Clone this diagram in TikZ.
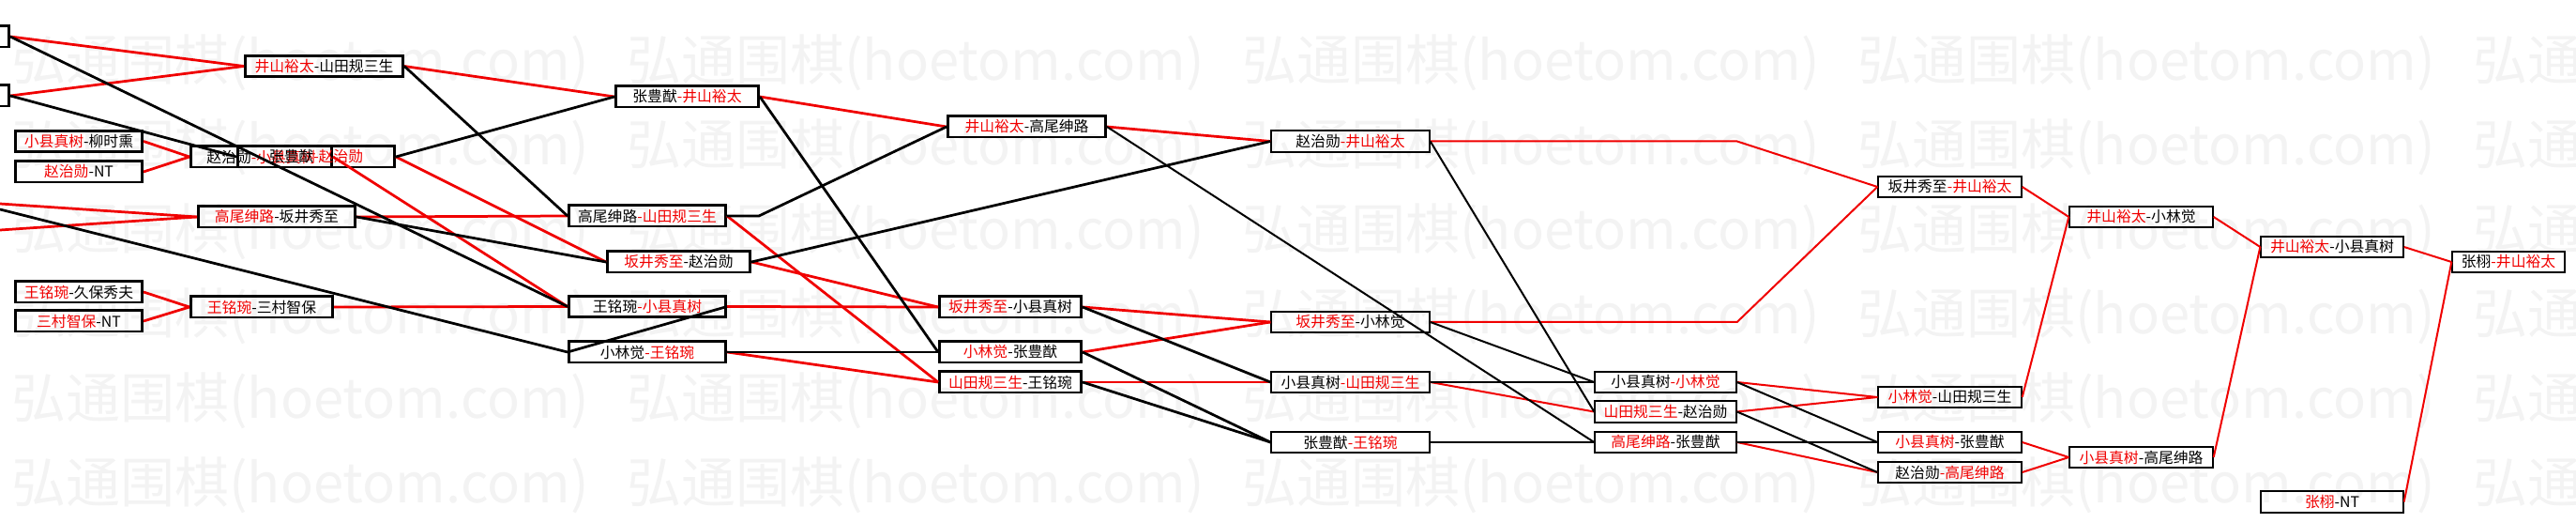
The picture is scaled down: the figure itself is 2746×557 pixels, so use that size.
\documentclass[tikz,border=0pt]{standalone}
\usepackage{fontspec}
\setmainfont{Noto Sans CJK SC}
\usepackage{xcolor}
\usepackage{tikz}
\definecolor{wred}{HTML}{F00000}
\definecolor{wmark}{HTML}{F3F3F3}
\newcommand\rd[1]{\textcolor{wred}{#1}}

\begin{document}
\begin{tikzpicture}[x=0.2mm,y=-0.2mm,
mb/.style={draw,line width=0.55mm,minimum width=#1*0.2mm-0.55mm,minimum height=4.45mm,inner sep=0pt,font=\fontsize{9pt}{9pt}\selectfont},
tb/.style={line width=0.42mm},
wl/.style={draw=wred,line width=0.55mm},
ll/.style={draw=black,line width=0.55mm},
tl/.style={line width=0.4mm},
wm/.style={anchor=west,text=wmark,inner sep=0pt,font=\fontsize{33pt}{33pt}\selectfont}]
\useasboundingbox (0,0) rectangle (2746,557);
\clip (0,0) rectangle (2746,557);
\foreach \r in {0,...,5}{\foreach \c in {0,...,4}{\node[wm] (w\r\c) at (12+656*\c,67+90*\r) {弘通围棋(hoetom.com)};}}
% boxes cut at the left edge
\node[mb=170] (l1) at (-74,39) {};
\node[mb=170] (l2) at (-74,102) {};
\coordinate (o1) at (0,217);
\coordinate (o2) at (0,245);
\coordinate (o3) at (0,223);
\node[mb=138] (a1) at (84,150.5) {\rd{小县真树}-柳时熏};
\node[mb=138] (a2) at (84,183) {\rd{赵治勋}-NT};
\node[mb=138] (a3) at (84,311) {\rd{王铭琬}-久保秀夫};
\node[mb=138] (a4) at (84,342) {\rd{三村智保}-NT};
\node[mb=171] (b1) at (345.5,70.5) {\rd{井山裕太}-山田规三生};
\node[mb=153] (b2) at (278.5,167) {赵治勋\rd{-小县真树}};
\node[mb=170] (b3) at (337,167) {张豊猷\rd{-赵治勋}};
\node[mb=170] (b4) at (295,231) {\rd{高尾绅路}-坂井秀至};
\node[mb=154] (b5) at (279,327) {\rd{王铭琬}-三村智保};
\node[mb=155] (c1) at (732.5,103) {张豊猷\rd{-井山裕太}};
\node[mb=170] (c2) at (690,230) {高尾绅路\rd{-山田规三生}};
\node[mb=155] (c3) at (723.5,279) {\rd{坂井秀至}-赵治勋};
\node[mb=170] (c4) at (690,326.5) {王铭琬\rd{-小县真树}};
\node[mb=170] (c5) at (690,375) {小林觉\rd{-王铭琬}};
\node[mb=171] (d1) at (1094.5,135) {\rd{井山裕太}-高尾绅路};
\node[mb=154] (d2) at (1077,327) {\rd{坂井秀至}-小县真树};
\node[mb=154] (d3) at (1077,375) {\rd{小林觉}-张豊猷};
\node[mb=154] (d4) at (1077,407) {\rd{山田规三生}-王铭琬};
\node[mb=171,tb] (e1) at (1439.5,150.5) {赵治勋\rd{-井山裕太}};
\node[mb=171,tb] (e2) at (1439.5,343) {\rd{坂井秀至}-小林觉};
\node[mb=171,tb] (e3) at (1439.5,407) {小县真树\rd{-山田规三生}};
\node[mb=171,tb] (e4) at (1439.5,471) {张豊猷\rd{-王铭琬}};
\node[mb=153,tb] (f1) at (1775.5,407) {小县真树\rd{-小林觉}};
\node[mb=153,tb] (f2) at (1775.5,438.5) {\rd{山田规三生}-赵治勋};
\node[mb=153,tb] (f3) at (1775.5,471) {\rd{高尾绅路}-张豊猷};
\node[mb=155,tb] (g1) at (2078.5,199) {坂井秀至\rd{-井山裕太}};
\node[mb=155,tb] (g2) at (2078.5,423) {\rd{小林觉}-山田规三生};
\node[mb=155,tb] (g3) at (2078.5,471) {\rd{小县真树}-张豊猷};
\node[mb=155,tb] (g4) at (2078.5,503) {赵治勋\rd{-高尾绅路}};
\node[mb=155,tb] (h1) at (2282.5,231) {\rd{井山裕太}-小林觉};
\node[mb=155,tb] (h2) at (2282.5,487) {\rd{小县真树}-高尾绅路};
\node[mb=154,tb] (i1) at (2486,263) {\rd{井山裕太}-小县真树};
\node[mb=154,tb] (i2) at (2486,534.5) {\rd{张栩}-NT};
\node[mb=122,tb] (j1) at (2674,279) {张栩\rd{-井山裕太}};
% winners
\draw[wl] (l1.east)--(b1.west);
\draw[wl] (l2.east)--(b1.west);
\draw[wl] (a1.east)--(b2.west);
\draw[wl] (a2.east)--(b2.west);
\draw[wl] (o1)--(b4.west);
\draw[wl] (o2)--(b4.west);
\draw[wl] (a3.east)--(b5.west);
\draw[wl] (a4.east)--(b5.west);
\draw[wl] (b1.east)--(c1.west);
\draw[wl] (b4.east)--(c2.west);
\draw[wl] (b3.east)--(c3.west);
\draw[wl] (b2.east)--(c4.west);
\draw[wl] (b5.east)--(c4.west);
\draw[wl] (c1.east)--(d1.west);
\draw[wl] (c3.east)--(d2.west);
\draw[wl] (c4.east)--(d2.west);
\draw[wl] (c2.east)--(d4.west);
\draw[wl] (c5.east)--(d4.west);
\draw[wl] (d1.east)--(e1.west);
\draw[wl] (d2.east)--(e2.west);
\draw[wl] (d3.east)--(e2.west);
\draw[wl] (d4.east)--(e3.west);
\draw[wl,tl] (e3.east)--(f2.west);
\draw[wl,tl] (e1.east)--++(327,0)--(g1.west);
\draw[wl,tl] (e2.east)--++(327,0)--(g1.west);
\draw[wl,tl] (f1.east)--(g2.west);
\draw[wl,tl] (f2.east)--(g2.west);
\draw[wl,tl] (f3.east)--(g4.west);
\draw[wl,tl] (g1.east)--(h1.west);
\draw[wl,tl] (g2.east)--(h1.west);
\draw[wl,tl] (g3.east)--(h2.west);
\draw[wl,tl] (g4.east)--(h2.west);
\draw[wl,tl] (h1.east)--(i1.west);
\draw[wl,tl] (h2.east)--(i1.west);
\draw[wl,tl] (i1.east)--(j1.west);
\draw[wl,tl] (i2.east)--(j1.west);
% losers
\draw[ll] (l1.east)--(c4.west);
\draw[ll] (l2.east)--(b3.west);
\draw[ll] (o3)--(c5.west);
\draw[ll] (b1.east)--(c2.west);
\draw[ll] (b3.east)--(c1.west);
\draw[ll] (b4.east)--(c3.west);
\draw[ll] (c4.east)--(c5.west);
\draw[ll] (c1.east)--(d3.west);
\draw[ll] (c2.east)--++(34,0)--(d1.west);
\draw[ll] (c3.east)--(e1.west);
\draw[ll] (c5.east)--(d3.west);
\draw[ll,tl] (d1.east)--(f3.west);
\draw[ll] (d2.east)--(e3.west);
\draw[ll] (d3.east)--(e4.west);
\draw[ll] (d4.east)--(e4.west);
\draw[ll,tl] (e1.east)--(f2.west);
\draw[ll,tl] (e2.east)--(f1.west);
\draw[ll,tl] (e3.east)--(f1.west);
\draw[ll,tl] (e4.east)--(f3.west);
\draw[ll,tl] (f1.east)--(g3.west);
\draw[ll,tl] (f2.east)--(g4.west);
\draw[ll,tl] (f3.east)--(g3.west);
\end{tikzpicture}
\end{document}
